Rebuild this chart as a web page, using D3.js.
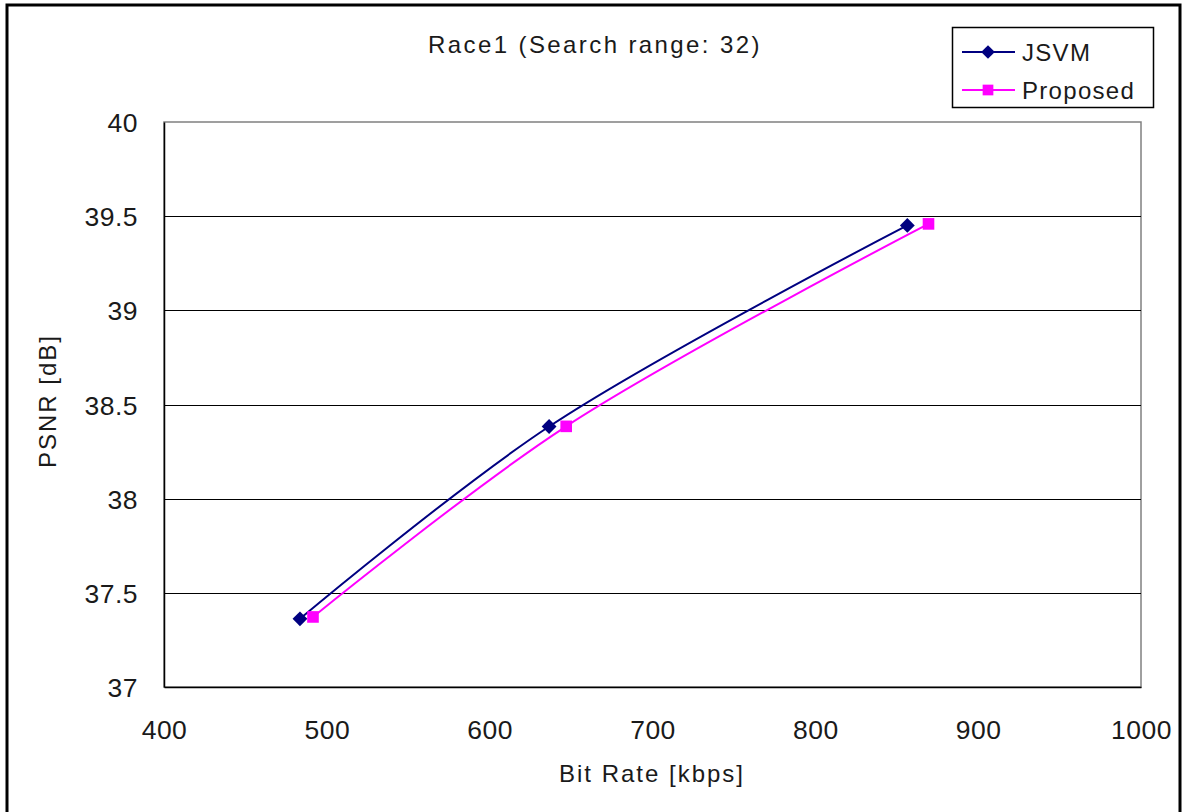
<!DOCTYPE html>
<html>
<head>
<meta charset="utf-8">
<script src="https://cdn.jsdelivr.net/npm/d3@7"></script>
<style>
  html, body { margin: 0; padding: 0; background: #fff; }
  svg text { font-family: "Liberation Sans", Arial, sans-serif; fill: #1a1a1a; }
</style>
</head>
<body>
<svg id="chart" width="1182" height="812"></svg>
<script>
// Rate-distortion points: bit rate [kbps] vs PSNR [dB]
const seriesNames = ["JSVM", "Proposed"];
const jsvmRate = [483.5, 636.5, 856.5];
const jsvmPsnr = [37.362, 38.383, 39.451];
const proposedRate = [491.5, 647, 869.5];
const proposedPsnr = [37.372, 38.384, 39.459];
const xTicks = [400, 500, 600, 700, 800, 900, 1000];
const yTicks = [37, 37.5, 38, 38.5, 39, 39.5, 40];
const seriesColors = ["#000080", "#FF00FF"];

const svg = d3.select("#chart");
const W = 1182, H = 812;
const plot = { left: 164, top: 122, right: 1141, bottom: 687 };

// outer chart frame (open at the bottom edge)
svg.append("path")
  .attr("d", `M7,${H + 5} L7,5 L1180,5 L1180,${H + 5}`)
  .attr("fill", "none").attr("stroke", "#000").attr("stroke-width", 3);

const x = d3.scaleLinear().domain([400, 1000]).range([plot.left, plot.right]);
const y = d3.scaleLinear().domain([37, 40]).range([plot.bottom, plot.top]);

// plot area border
svg.append("rect")
  .attr("x", plot.left).attr("y", plot.top)
  .attr("width", plot.right - plot.left).attr("height", plot.bottom - plot.top)
  .attr("fill", "none").attr("stroke", "#808080").attr("stroke-width", 1.5);

// horizontal gridlines
svg.append("g").selectAll("line")
  .data(yTicks.filter(t => t > 37 && t < 40))
  .join("line")
  .attr("x1", plot.left).attr("x2", plot.right)
  .attr("y1", d => Math.round(y(d)) + 0.5).attr("y2", d => Math.round(y(d)) + 0.5)
  .attr("stroke", "#000").attr("stroke-width", 1);

// axes
const xAxis = d3.axisBottom(x).tickValues(xTicks).tickSize(0).tickPadding(34)
  .tickFormat(d3.format("d"));
const yAxis = d3.axisLeft(y).tickValues(yTicks).tickSize(0).tickPadding(26)
  .tickFormat(d3.format("~g"));

const gx = svg.append("g").attr("transform", `translate(0,${plot.bottom})`).call(xAxis);
const gy = svg.append("g").attr("transform", `translate(${plot.left},0)`).call(yAxis);
[gx, gy].forEach(g => {
  g.select(".domain").attr("stroke", "#000").attr("stroke-width", 1.5);
  g.selectAll(".tick text").attr("font-size", 26.5).attr("letter-spacing", 0.5)
    .attr("fill", "#1a1a1a").attr("font-family", "'Liberation Sans', Arial, sans-serif");
});
gx.selectAll(".tick text").attr("dy", "0.35em").attr("y", 43);
gy.selectAll(".tick text").attr("dy", "0.36em");

// axis titles
svg.append("text")
  .attr("x", 652).attr("y", 782)
  .attr("text-anchor", "middle").attr("font-size", 24).attr("letter-spacing", 2)
  .text("Bit Rate [kbps]");
svg.append("text")
  .attr("transform", `translate(56,401) rotate(-90)`)
  .attr("text-anchor", "middle").attr("font-size", 24).attr("letter-spacing", 2)
  .text("PSNR [dB]");

// chart title
svg.append("text")
  .attr("x", 595).attr("y", 53)
  .attr("text-anchor", "middle").attr("font-size", 24).attr("letter-spacing", 2.4)
  .text("Race1 (Search range: 32)");

// markers: diamond is a rotated square
const series = [
  { name: seriesNames[0], color: seriesColors[0], size: 110, rot: 45,
    pts: jsvmRate.map((r, i) => [r, jsvmPsnr[i]]) },
  { name: seriesNames[1], color: seriesColors[1], size: 135, rot: 0,
    pts: proposedRate.map((r, i) => [r, proposedPsnr[i]]) }
];

const line = d3.line().x(d => x(d[0])).y(d => y(d[1])).curve(d3.curveCatmullRom.alpha(0.5));

series.forEach(s => {
  svg.append("path").datum(s.pts)
    .attr("d", line).attr("fill", "none")
    .attr("stroke", s.color).attr("stroke-width", 2);
  svg.append("g").selectAll("path").data(s.pts).join("path")
    .attr("transform", d => `translate(${x(d[0])},${y(d[1])}) rotate(${s.rot})`)
    .attr("d", d3.symbol().type(d3.symbolSquare).size(s.size))
    .attr("fill", s.color);
});

// legend
const lg = svg.append("g");
lg.append("rect").attr("x", 952.5).attr("y", 27.5).attr("width", 201).attr("height", 80)
  .attr("fill", "#fff").attr("stroke", "#000").attr("stroke-width", 1.5);
series.forEach((s, i) => {
  const cy = 52 + i * 38;
  lg.append("line").attr("x1", 962).attr("x2", 1015).attr("y1", cy).attr("y2", cy)
    .attr("stroke", s.color).attr("stroke-width", 2);
  lg.append("path").attr("transform", `translate(988,${cy}) rotate(${s.rot})`)
    .attr("d", d3.symbol().type(d3.symbolSquare).size(s.size * 0.85)).attr("fill", s.color);
  lg.append("text").attr("x", 1022).attr("y", cy).attr("dy", "0.36em")
    .attr("font-size", 24).attr("letter-spacing", 1.3).text(s.name);
});
</script>
</body>
</html>
